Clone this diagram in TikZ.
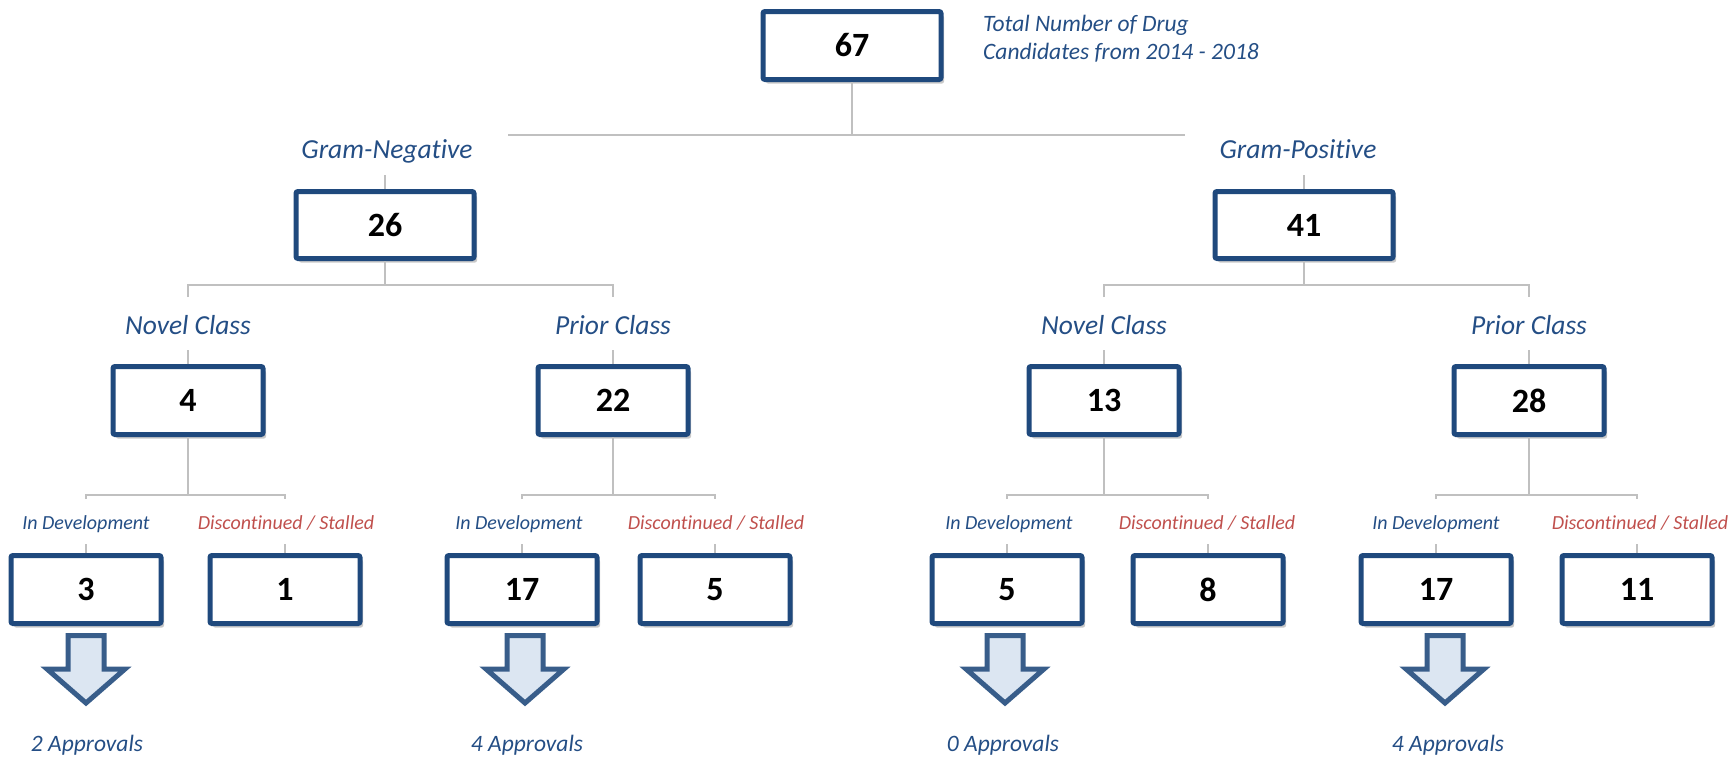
\documentclass[tikz,border=0pt]{standalone}
\usepackage{fontspec}
\setmainfont{Carlito}[Ligatures=NoCommon]
\usetikzlibrary{shadows,positioning}

\definecolor{boxblue}{RGB}{31,73,125}
\definecolor{lblblue}{RGB}{36,78,133}
\definecolor{stallred}{RGB}{192,80,77}
\definecolor{linegray}{RGB}{192,192,192}
\definecolor{arrowfill}{RGB}{220,230,242}
\definecolor{arrowline}{RGB}{56,93,138}

\tikzset{
    countbox/.style={draw=boxblue, line width=5, fill=white, rounded corners=2,
        minimum width=150, minimum height=68, inner sep=0,
        font=\fontsize{34}{40}\selectfont\bfseries,
        drop shadow={shadow xshift=3pt, shadow yshift=-4pt, opacity=0.3, fill=black!70}},
    widebox/.style={countbox, minimum width=178, minimum height=67},
    grouplbl/.style={text=lblblue, anchor=base, inner sep=0,
        font=\fontsize{27.5}{33}\selectfont\itshape},
    devlbl/.style={text=lblblue, anchor=base, inner sep=0,
        font=\fontsize{20}{24}\selectfont\itshape},
    stalllbl/.style={devlbl, text=stallred},
    notelbl/.style={text=lblblue, anchor=base west, inner sep=0,
        font=\fontsize{23.5}{28}\selectfont\itshape},
    conn/.style={draw=linegray, line width=1.5},
    approvearrow/.style={draw=arrowline, fill=arrowfill, line width=5, line join=miter},
}

\begin{document}
\begin{tikzpicture}[x=1pt, y=-1pt]
    \useasboundingbox (0,0) rectangle (1732,756);

    \coordinate (lvlA) at (0,285);
    \coordinate (lvlB) at (0,495);

    % Total
    \node[widebox, minimum height=68] (total) at (852,45.5) {67};
    \node[notelbl] (note1) at (983,31) {Total Number of Drug};
    \node[notelbl] (note2) at (983,59.5) {Candidates from 2014 - 2018};

    % Gram groups
    \node[grouplbl] (gnlbl) at (387,158) {Gram-Negative};
    \node[grouplbl] (gplbl) at (1298,158) {Gram-Positive};
    \node[widebox] (gn) at (385,225) {26};
    \node[widebox] (gp) at (1304,225) {41};

    % Classes
    \node[grouplbl] (gnnovlbl) at (188,334) {Novel Class};
    \node[grouplbl] (gnprilbl) at (613,334) {Prior Class};
    \node[grouplbl] (gpnovlbl) at (1104,334) {Novel Class};
    \node[grouplbl] (gpprilbl) at (1529,334) {Prior Class};
    \node[countbox] (gnnov) at (188,400.5) {4};
    \node[countbox] (gnpri) at (613,400.5) {22};
    \node[countbox] (gpnov) at (1104,400.5) {13};
    \node[countbox] (gppri) at (1529,400.5) {28};

    % Status labels
    \node[devlbl] (gnnovdevlbl) at (86,529) {In Development};
    \node[stalllbl] (gnnovstlbl) at (286,529) {Discontinued / Stalled};
    \node[devlbl] (gnpridevlbl) at (519,529) {In Development};
    \node[stalllbl] (gnpristlbl) at (716,529) {Discontinued / Stalled};
    \node[devlbl] (gpnovdevlbl) at (1009,529) {In Development};
    \node[stalllbl] (gpnovstlbl) at (1207,529) {Discontinued / Stalled};
    \node[devlbl] (gppridevlbl) at (1436,529) {In Development};
    \node[stalllbl] (gppristlbl) at (1640,529) {Discontinued / Stalled};

    % Leaf counts
    \node[countbox] (gnnovdev) at (86,589.5) {3};
    \node[countbox] (gnnovst) at (285,589.5) {1};
    \node[countbox] (gnpridev) at (522,589.5) {17};
    \node[countbox] (gnprist) at (715,589.5) {5};
    \node[countbox] (gpnovdev) at (1007,589.5) {5};
    \node[countbox] (gpnovst) at (1208,589.5) {8};
    \node[countbox] (gppridev) at (1436,589.5) {17};
    \node[countbox] (gpprist) at (1637,589.5) {11};

    % Top connectors
    \coordinate (topL) at (508,135);
    \coordinate (topR) at (1185,135);
    \draw[conn] (total.south) -- (total |- topL);
    \draw[conn] (topL) -- (topR);
    \draw[conn] (gn.north) -- ++(0,-14);
    \draw[conn] (gp.north) -- ++(0,-14);

    % Group to class connectors
    \foreach \p/\l/\r in {gn/gnnov/gnpri, gp/gpnov/gppri} {
        \draw[conn] (\p.south) -- (\p |- lvlA);
        \draw[conn] (\l |- lvlA) ++(0,12) -- ++(0,-12) -- (\r |- lvlA) -- ++(0,12);
        \draw[conn] (\l.north) -- ++(0,-14);
        \draw[conn] (\r.north) -- ++(0,-14);
    }

    % Class to status connectors
    \foreach \p in {gnnov, gnpri, gpnov, gppri} {
        \draw[conn] (\p.south) -- (\p |- lvlB);
        \draw[conn] (\p dev |- lvlB) ++(0,4) -- ++(0,-4) -- (\p st |- lvlB) -- ++(0,4);
        \draw[conn] (\p dev.north) -- ++(0,-9);
        \draw[conn] (\p st.north) -- ++(0,-9);
    }

    % Approval arrows
    \foreach \x/\tx/\n/\name in {86/87/2/gnnovapp, 525/527/4/gnpriapp, 1005/1003/0/gpnovapp, 1445/1448/4/gppriapp} {
        \draw[approvearrow] (\x-18,635.5) -- (\x+18,635.5) -- (\x+18,669) -- (\x+39,669)
            -- (\x,703) -- (\x-39,669) -- (\x-18,669) -- cycle;
        \node[grouplbl, font=\fontsize{23.5}{28}\selectfont\itshape] (\name) at (\tx,751) {\n\ Approvals};
    }
\end{tikzpicture}
\end{document}
